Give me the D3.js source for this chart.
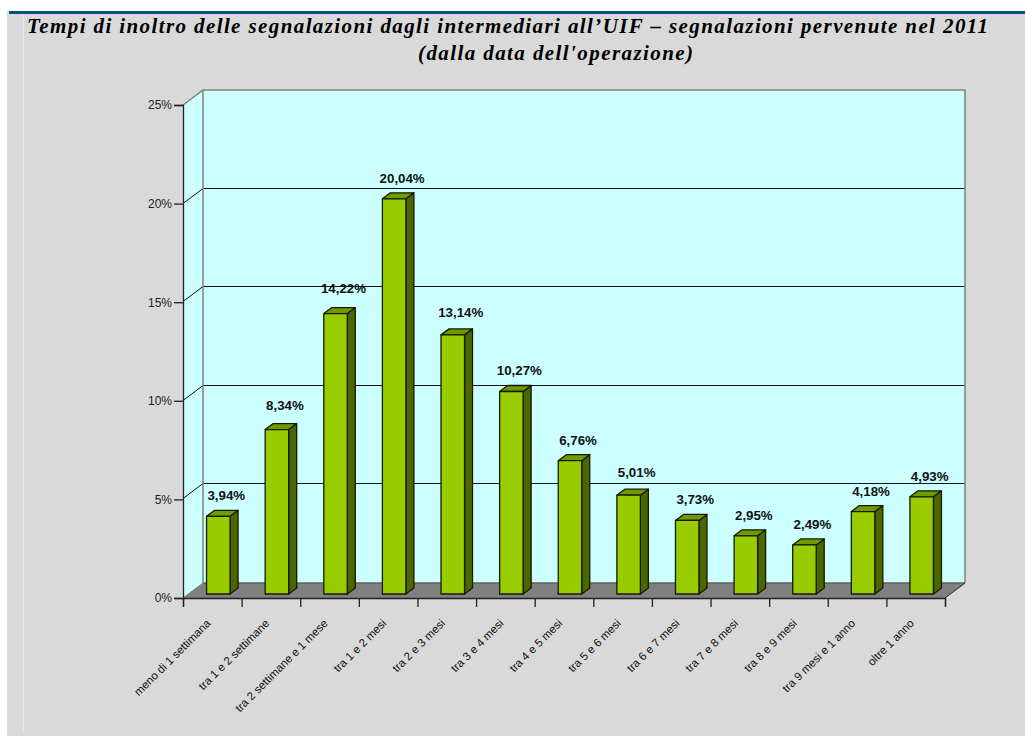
<!DOCTYPE html>
<html>
<head>
<meta charset="utf-8">
<script src="https://cdn.jsdelivr.net/npm/d3@7"></script>
<style>
    body { margin: 0; background: #fff; }
    svg { display: block; }
    text { font-family: "Liberation Sans", Arial, sans-serif; fill: #111; }
    .title { font-family: "Liberation Serif", serif; font-weight: bold; font-style: italic; font-size: 21px; fill: #000; }
    .value { font-weight: bold; font-size: 13.3px; text-anchor: middle; }
    .axis text { font-size: 12px; fill: #222; }
    .axis path, .axis line { stroke: #222; stroke-width: 1.3; }
</style>
</head>
<body>
<div id="chart"></div>
<script>
// Data
const categories = ["meno di 1 settimana", "tra 1 e 2 settimane", "tra 2 settimane e 1 mese", "tra 1 e 2 mesi", "tra 2 e 3 mesi", "tra 3 e 4 mesi", "tra 4 e 5 mesi", "tra 5 e 6 mesi", "tra 6 e 7 mesi", "tra 7 e 8 mesi", "tra 8 e 9 mesi", "tra 9 mesi e 1 anno", "oltre 1 anno"];
const values = [3.94, 8.34, 14.22, 20.04, 13.14, 10.27, 6.76, 5.01, 3.73, 2.95, 2.49, 4.18, 4.93];
const yTicks = [0, 5, 10, 15, 20, 25];
const titleLines = ["Tempi di inoltro delle segnalazioni dagli intermediari all\u2019UIF \u2013 segnalazioni pervenute nel 2011", "(dalla data dell'operazione)"];

const width = 1025, height = 736;

// plot box (front plane) and 3d depth of the walls
const plotLeft = 183, plotRight = 945, plotTop = 105, plotBottom = 598;
const depthX = 20, depthY = 15;
// bars sit a bit inside the floor
const barW = 23.5, barDx = 8, barDy = 6, barOffX = 6, barOffY = 4;
// some value labels were pushed up in the original
const labelLift = [0, 4, 5, 0, 2, 0, 0, 2, 0, 0, 0, 0, 0];

const svg = d3.select("#chart")
    .append("svg")
    .attr("width", width)
    .attr("height", height);

const x = d3.scaleBand().domain(categories).range([plotLeft, plotRight]);
const y = d3.scaleLinear().domain([0, 25]).range([plotBottom, plotTop]);
const pct = d => d.toFixed(2).replace(".", ",") + "%";
const poly = pts => pts.map(p => p.join(",")).join(" ");

// page background
svg.append("rect").attr("x", 7).attr("y", 11).attr("width", width - 7).attr("height", height - 11).attr("fill", "#d9d9d9");
svg.append("rect").attr("x", 9).attr("y", 11).attr("width", width - 9).attr("height", 3).attr("fill", "#00537c");
svg.append("line").attr("x1", 23.5).attr("x2", 23.5).attr("y1", 14).attr("y2", 732).attr("stroke", "#e6e6e6");

// title
svg.append("text").attr("class", "title").attr("x", 27).attr("y", 33)
    .attr("textLength", 961).attr("lengthAdjust", "spacing").text(titleLines[0]);
svg.append("text").attr("class", "title").attr("x", 418).attr("y", 60)
    .attr("textLength", 275).attr("lengthAdjust", "spacing").text(titleLines[1]);

// walls
const wallX = plotLeft + depthX, wallR = plotRight + depthX;
svg.append("rect")
    .attr("x", wallX).attr("y", y(25) - depthY)
    .attr("width", wallR - wallX).attr("height", y(0) - y(25))
    .attr("fill", "#ccffff");
svg.append("polygon")
    .attr("points", poly([[plotLeft, y(25)], [wallX, y(25) - depthY], [wallX, y(0) - depthY], [plotLeft, y(0)]]))
    .attr("fill", "#ccffff");

// floor
svg.append("polygon")
    .attr("points", poly([[plotLeft, y(0)], [wallX, y(0) - depthY], [wallR, y(0) - depthY], [plotRight, y(0)]]))
    .attr("fill", "#808080");
svg.append("line")
    .attr("x1", wallX).attr("x2", wallR).attr("y1", y(0) - depthY).attr("y2", y(0) - depthY)
    .attr("stroke", "#606060").attr("stroke-width", 1.5);
svg.append("line")
    .attr("x1", plotLeft).attr("y1", y(0)).attr("x2", wallX).attr("y2", y(0) - depthY)
    .attr("stroke", "#808080");
svg.append("line")
    .attr("x1", plotRight).attr("y1", y(0)).attr("x2", wallR).attr("y2", y(0) - depthY)
    .attr("stroke", "#222");

// gridlines
yTicks.filter(t => t > 0 && t < 25).forEach(function(t) {
    const gy = Math.round(y(t)) - 0.5;
    svg.append("polyline")
        .attr("points", poly([[plotLeft, gy], [wallX, gy - depthY], [wallR, gy - depthY]]))
        .attr("fill", "none")
        .attr("stroke", "#111");
});

// wall outline
svg.append("polyline")
    .attr("points", poly([[plotLeft, y(25)], [wallX, y(25) - depthY], [wallR, y(25) - depthY], [wallR, y(0) - depthY]]))
    .attr("fill", "none").attr("stroke", "#808080").attr("stroke-width", 1.5);
svg.append("line")
    .attr("x1", wallX).attr("x2", wallX).attr("y1", y(25) - depthY).attr("y2", y(0) - depthY)
    .attr("stroke", "#808080").attr("stroke-width", 1.5);

// bars
const rows = categories.map((c, i) => ({ c: c, v: values[i], lift: labelLift[i] }));

const bars = svg.selectAll(".bar")
    .data(rows)
    .enter()
    .append("g")
    .attr("class", "bar")
    .attr("stroke", "#141a00")
    .attr("stroke-width", 1.3)
    .attr("stroke-linejoin", "round");

const bx = d => x(d.c) + x.bandwidth() / 2 + barOffX - barW / 2;
const by = d => y(d.v) - barOffY;
const b0 = y(0) - barOffY;

bars.append("polygon")
    .attr("fill", "#4d6600")
    .attr("points", d => poly([[bx(d) + barW, by(d)], [bx(d) + barW + barDx, by(d) - barDy], [bx(d) + barW + barDx, b0 - barDy], [bx(d) + barW, b0]]));
bars.append("polygon")
    .attr("fill", "#739900")
    .attr("points", d => poly([[bx(d), by(d)], [bx(d) + barDx, by(d) - barDy], [bx(d) + barW + barDx, by(d) - barDy], [bx(d) + barW, by(d)]]));
bars.append("rect")
    .attr("fill", "#99cc00")
    .attr("x", bx)
    .attr("y", by)
    .attr("width", barW)
    .attr("height", d => b0 - by(d));

// value labels
svg.selectAll(".value")
    .data(rows)
    .enter()
    .append("text")
    .attr("class", "value")
    .attr("x", d => bx(d) + barW / 2 + 8)
    .attr("y", d => by(d) - 16 - d.lift)
    .text(d => pct(d.v));

// axes
const yAxis = d3.axisLeft(y)
    .tickValues(yTicks)
    .tickSize(9)
    .tickPadding(2)
    .tickFormat(d => d + "%");
svg.append("g")
    .attr("class", "axis")
    .attr("transform", `translate(${plotLeft},0)`)
    .call(yAxis);

const xEdges = d3.scaleLinear().domain([0, categories.length]).range([plotLeft, plotRight]);
const xAxis = d3.axisBottom(xEdges)
    .tickValues(d3.range(categories.length + 1))
    .tickSize(9)
    .tickFormat("");
svg.append("g")
    .attr("class", "axis")
    .attr("transform", `translate(0,${plotBottom})`)
    .call(xAxis);

// rotated category labels
svg.selectAll(".cat")
    .data(categories)
    .enter()
    .append("text")
    .attr("class", "cat")
    .attr("font-size", 11.4)
    .attr("fill", "#222")
    .attr("text-anchor", "end")
    .attr("transform", d => `translate(${x(d) + x.bandwidth() / 2 - 1},${plotBottom + 26}) rotate(-45)`)
    .text(d => d);
</script>
</body>
</html>
